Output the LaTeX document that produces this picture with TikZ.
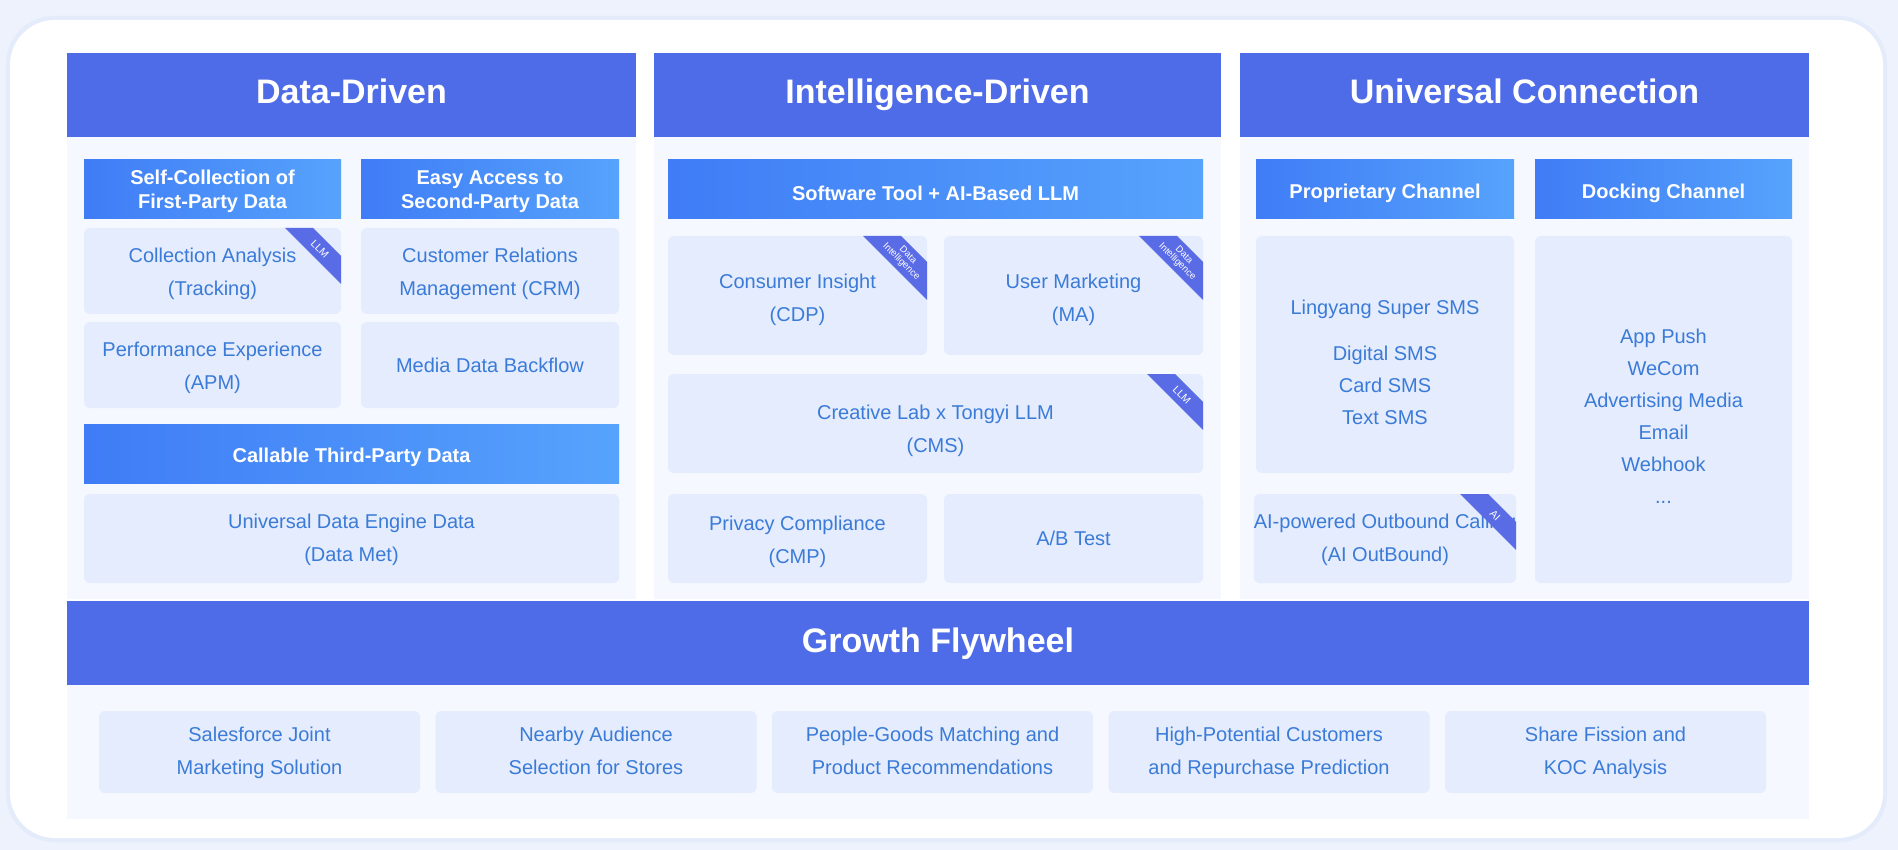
\documentclass[tikz,border=0pt]{standalone}
\usepackage{fontspec}
\setmainfont{Liberation Sans}
\usetikzlibrary{positioning}

\definecolor{pagebg}{HTML}{EDF2FC}
\definecolor{ringbg}{HTML}{E4ECFB}
\definecolor{hdblue}{HTML}{4F6CE8}
\definecolor{gradA}{HTML}{3F7CF6}
\definecolor{gradB}{HTML}{56A3FC}
\definecolor{bodybg}{HTML}{F5F8FE}
\definecolor{cardbg}{HTML}{E4ECFD}
\definecolor{cardtxt}{HTML}{3B7BD8}
\definecolor{tagblue}{HTML}{5A6BE6}

\begin{document}
\begin{tikzpicture}[x=1pt, y=-1pt,
    lift/.style={execute at begin node={\rule{0pt}{#1}}},
    drop/.style={text height=#1, text depth=0pt},
    colhead/.style={fill=hdblue, text=white, inner sep=0pt, outer sep=0pt, minimum height=84pt, text height=25pt, text depth=7pt, font=\bfseries\fontsize{34}{40}\selectfont},
    subhead/.style={left color=gradA, right color=gradB, text=white, inner sep=0pt, outer sep=0pt, minimum height=59pt, align=center, lift=22pt, font=\bfseries\fontsize{20}{24}\selectfont},
    card/.style={fill=cardbg, rounded corners=6pt, text=cardtxt, inner sep=0pt, outer sep=0pt, align=center, font=\fontsize{20}{33}\selectfont},
    tagtxt/.style={text=white, align=center, inner sep=0pt, font=\fontsize{#1}{#1}\selectfont}]

    % page and white card
    \useasboundingbox (0,0) rectangle (1898,850);
    \fill[pagebg] (0,0) rectangle (1898,850);
    \fill[ringbg, rounded corners=48pt] (6,16) rectangle (1887,842);
    \fill[white, rounded corners=45pt] (10,20) rectangle (1883,838);

    % column and bottom backgrounds
    \fill[bodybg] (67,137) rectangle (636,599);
    \fill[bodybg] (654,137) rectangle (1221,599);
    \fill[bodybg] (1240,137) rectangle (1809,599);
    \fill[bodybg] (67,685) rectangle (1809,819);

    % Data-Driven
    \node[colhead, minimum width=569pt, anchor=north west] (dd) at (67,53) {Data-Driven};
    \node[subhead, minimum width=257pt, anchor=north west, text depth=-3pt] (sh1) at (84,160) {Self-Collection of\\First-Party Data};
    \node[subhead, minimum width=258pt, right=20pt of sh1, text depth=-3pt] (sh2) {Easy Access to\\Second-Party Data};
    \node[card, drop=50pt, minimum width=257pt, minimum height=86pt, below=9pt of sh1] (c11) {Collection Analysis\\(Tracking)};
    \node[card, drop=50pt, minimum width=258pt, minimum height=86pt, right=20pt of c11] (c12) {Customer Relations\\Management (CRM)};
    \node[card, drop=49pt, minimum width=257pt, minimum height=86pt, below=8pt of c11] (c13) {Performance Experience\\(APM)};
    \node[card, minimum width=258pt, minimum height=86pt, right=20pt of c13] (c14) {Media Data Backflow};
    \node[subhead, minimum width=535pt, below=16pt of c13.south west, anchor=north west] (sh3) {Callable Third-Party Data};
    \node[card, drop=46pt, minimum width=535pt, minimum height=89pt, below=11pt of sh3] (c15) {Universal Data Engine Data\\(Data Met)};

    % Intelligence-Driven
    \node[colhead, minimum width=567pt, anchor=north west] (id) at (654,53) {Intelligence-Driven};
    \node[subhead, minimum width=535pt, anchor=north west] (sh4) at (668,160) {Software Tool + AI-Based LLM};
    \node[card, drop=52pt, minimum width=259pt, minimum height=119pt, below=17pt of sh4.south west, anchor=north west] (c21) {Consumer Insight\\(CDP)};
    \node[card, drop=52pt, minimum width=259pt, minimum height=119pt, right=17pt of c21] (c22) {User Marketing\\(MA)};
    \node[card, drop=57pt, minimum width=535pt, minimum height=99pt, below=19pt of c21.south west, anchor=north west] (c23) {Creative Lab x Tongyi LLM\\(CMS)};
    \node[card, drop=50pt, minimum width=259pt, minimum height=89pt, below=21pt of c23.south west, anchor=north west] (c24) {Privacy Compliance\\(CMP)};
    \node[card, minimum width=259pt, minimum height=89pt, right=17pt of c24] (c25) {A/B Test};

    % Universal Connection
    \node[colhead, minimum width=569pt, anchor=north west] (uc) at (1240,53) {Universal Connection};
    \node[subhead, minimum width=258pt, anchor=north west] (sh5) at (1256,160) {Proprietary Channel};
    \node[subhead, minimum width=257pt, right=21pt of sh5] (sh6) {Docking Channel};
    \node[card, drop=140pt, minimum width=258pt, minimum height=237pt, below=17pt of sh5, font=\fontsize{20}{32}\selectfont] (c31) {Lingyang Super SMS\\[14pt]Digital SMS\\Card SMS\\Text SMS};
    \node[card, drop=46pt, minimum width=258pt, minimum height=89pt, below=21pt of c31] (c32) {AI-powered Outbound Calling\\(AI OutBound)};
    \node[card, drop=188pt, minimum width=257pt, minimum height=347pt, below=17pt of sh6, font=\fontsize{20}{32}\selectfont] (c33) {App Push\\WeCom\\Advertising Media\\Email\\Webhook\\...};

    % corner tags
    \foreach \c/\a/\b/\s/\t in {c11/28/56/10.5/LLM, c21/26/64/9.5/{Data\\Intelligence}, c22/26/64/9.5/{Data\\Intelligence}, c23/28/56/10.5/LLM, c32/28/56/10.5/AI} {
        \fill[tagblue] ([xshift=-\b]\c.north east) -- ([xshift=-\a]\c.north east) -- ([yshift=-\a]\c.north east) -- ([yshift=-\b]\c.north east) -- cycle;
        \node[tagtxt=\s, rotate=-45] at ([xshift={-(\a+\b)/4}, yshift={-(\a+\b)/4}]\c.north east) {\t};
    }

    % Growth Flywheel
    \node[colhead, minimum width=1742pt, minimum height=84pt, anchor=north west] (gf) at (67,601) {Growth Flywheel};
    \node[card, drop=45pt, minimum width=321pt, minimum height=82pt, anchor=north west] (b1) at (99,711) {Salesforce Joint\\Marketing Solution};
    \node[card, drop=45pt, minimum width=321pt, minimum height=82pt, right=15.5pt of b1] (b2) {Nearby Audience\\Selection for Stores};
    \node[card, drop=45pt, minimum width=321pt, minimum height=82pt, right=15.5pt of b2] (b3) {People-Goods Matching and\\Product Recommendations};
    \node[card, drop=45pt, minimum width=321pt, minimum height=82pt, right=15.5pt of b3] (b4) {High-Potential Customers\\and Repurchase Prediction};
    \node[card, drop=45pt, minimum width=321pt, minimum height=82pt, right=15.5pt of b4] (b5) {Share Fission and\\KOC Analysis};
\end{tikzpicture}
\end{document}
